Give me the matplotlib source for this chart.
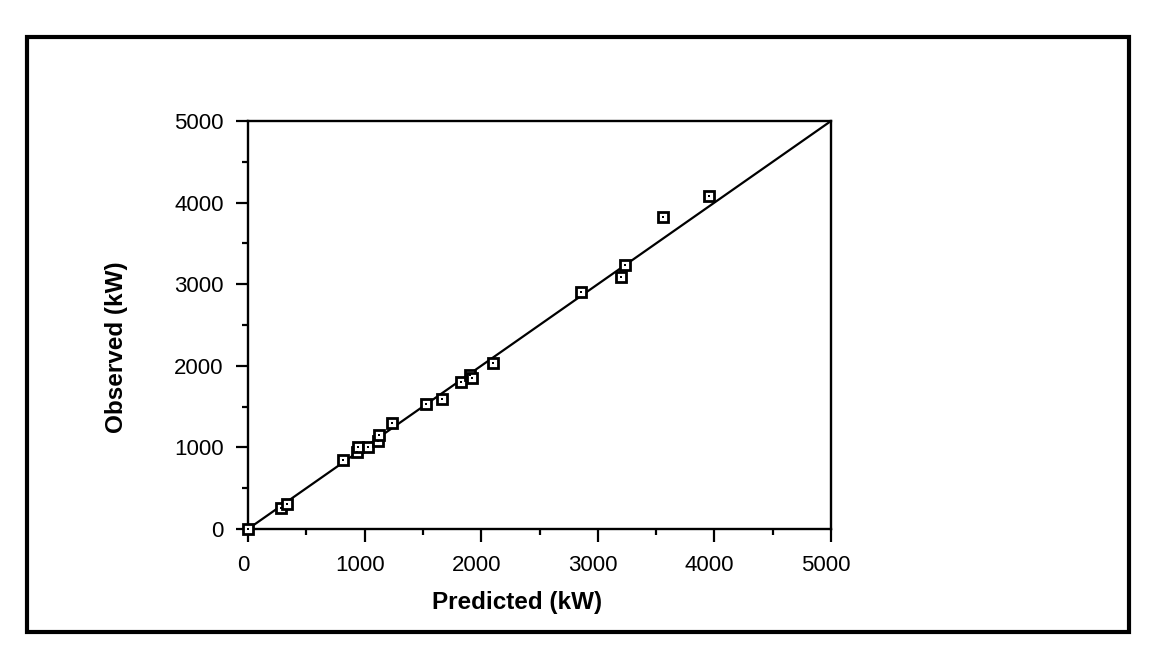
import matplotlib
matplotlib.use("Agg")
import matplotlib.pyplot as plt
from matplotlib.ticker import MultipleLocator
from matplotlib.patches import Rectangle
import matplotlib.transforms as mtransforms

predicted = [0, 283, 334, 815, 935, 940, 1029, 1115, 1120, 1235, 1527, 1664,
             1827, 1900, 1920, 2101, 2856, 3199, 3230, 3559, 3954]
observed = [0, 257, 306, 846, 944, 1010, 1005, 1078, 1152, 1299, 1532, 1593,
            1801, 1890, 1850, 2034, 2904, 3088, 3235, 3824, 4081]
line_x = [0, 5000]
line_y = [0, 5000]
ticks = [0, 1000, 2000, 3000, 4000, 5000]

plt.rcParams['font.family'] = ['Liberation Sans', 'DejaVu Sans']

fig = plt.figure(figsize=(11.49, 6.57), dpi=100)
ax = fig.add_axes([248/1149, 1-529/657, (831-248)/1149, (529-121)/657])

ax.plot(line_x, line_y, color='black', lw=1.6, zorder=2)
ax.plot(predicted, observed, linestyle='none', marker='s', ms=7.6,
        mfc='white', mec='black', mew=2.0, zorder=3, clip_on=False)
ax.plot(predicted, observed, linestyle='none', marker='s', ms=1.7,
        mfc='black', mec='black', mew=0, zorder=4, clip_on=False)

ax.set_xlim(0, 5000)
ax.set_ylim(0, 5000)
ax.set_xticks(ticks)
ax.set_yticks(ticks)
ax.xaxis.set_minor_locator(MultipleLocator(500))
ax.yaxis.set_minor_locator(MultipleLocator(500))
ax.tick_params(which='major', direction='out', length=9, width=1.6,
               labelsize=16)
ax.tick_params(which='minor', direction='out', length=4.3, width=1.6)
ax.tick_params(axis='x', pad=9.5)
ax.tick_params(axis='y', pad=8.6)
for s in ax.spines.values():
    s.set_linewidth(1.7)

# reference tick labels sit slightly left of their ticks
shift = mtransforms.ScaledTranslation(-5/100, 0, fig.dpi_scale_trans)
for lab in ax.get_xticklabels():
    lab.set_transform(lab.get_transform() + shift)

fig.text(517/1149, 1-602/657, 'Predicted (kW)', ha='center', va='center',
         fontsize=17.5, fontweight='bold')
fig.text(116/1149, 1-347/657, 'Observed (kW)', ha='center', va='center',
         fontsize=17.5, fontweight='bold', rotation=90)

fig.patches.append(Rectangle((27/1149, 1-632/657), (1129-27)/1149, (632-37)/657,
                             transform=fig.transFigure, fill=False,
                             edgecolor='black', lw=3))

fig.savefig('out.png', dpi=100)
